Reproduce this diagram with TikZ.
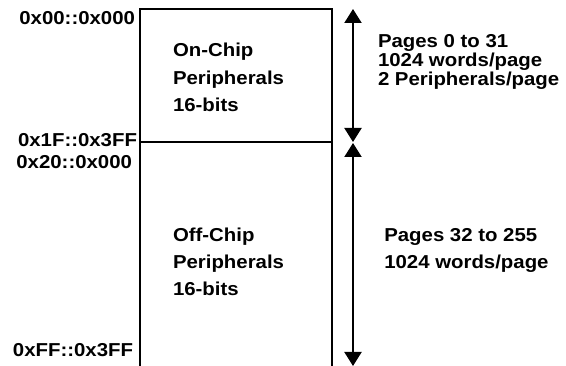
\documentclass[tikz,border=0pt]{standalone}
\usepackage{fontspec}
\setmainfont{Liberation Sans}[FakeStretch=1.09]
\usetikzlibrary{arrows.meta}
\begin{document}
\begin{tikzpicture}[x=1pt,y=-1pt,
  lab/.style={font=\bfseries\fontsize{18.7}{20}\selectfont, inner sep=0pt, outer sep=0pt},
  wall/.style={line width=2.2pt},
  dimarrow/.style={line width=2pt, {Triangle[width=17pt,length=14pt]}-{Triangle[width=17pt,length=14pt]}}]
\useasboundingbox (0,0) rectangle (566,366);
% memory box
\coordinate (tl) at (140,9);
\coordinate (tr) at (332,9);
\coordinate (bl) at (140,367);
\coordinate (br) at (332,367);
\coordinate (ml) at (140,142);
\coordinate (mr) at (332,142);
\draw[wall] (bl) -- (tl) -- (tr) -- (br);
\draw[wall] (ml) -- (mr);
% dimension arrows
\coordinate (a1) at (353,9);
\coordinate (a2) at (353,142);
\coordinate (a3) at (353,143);
\coordinate (a4) at (353,366);
\draw[dimarrow] (a1) -- (a2);
\draw[dimarrow] (a3) -- (a4);
% address labels
\node[lab, anchor=base east] (ad1) at (135,25) {0x00::0x000};
\node[lab, anchor=base east] (ad2) at (137,146.7) {0x1F::0x3FF};
\node[lab, anchor=base east] (ad3) at (132,168.3) {0x20::0x000};
\node[lab, anchor=base east] (ad4) at (133,356.7) {0xFF::0x3FF};
% box contents
\node[lab, anchor=base west] (on1) at (173,56.7) {On-Chip};
\node[lab, anchor=base west] (on2) at (173,84.5) {Peripherals};
\node[lab, anchor=base west] (on3) at (173,111.7) {16-bits};
\node[lab, anchor=base west] (off1) at (173,241.7) {Off-Chip};
\node[lab, anchor=base west] (off2) at (173,268.3) {Peripherals};
\node[lab, anchor=base west] (off3) at (173,296) {16-bits};
% page descriptions
\node[lab, anchor=base west] (p1) at (378,48) {Pages 0 to 31};
\node[lab, anchor=base west] (p2) at (378,66.7) {1024 words/page};
\node[lab, anchor=base west] (p3) at (378,85.5) {2 Peripherals/page};
\node[lab, anchor=base west] (q1) at (384.3,241.7) {Pages 32 to 255};
\node[lab, anchor=base west] (q2) at (384.3,268.3) {1024 words/page};
\end{tikzpicture}
\end{document}
